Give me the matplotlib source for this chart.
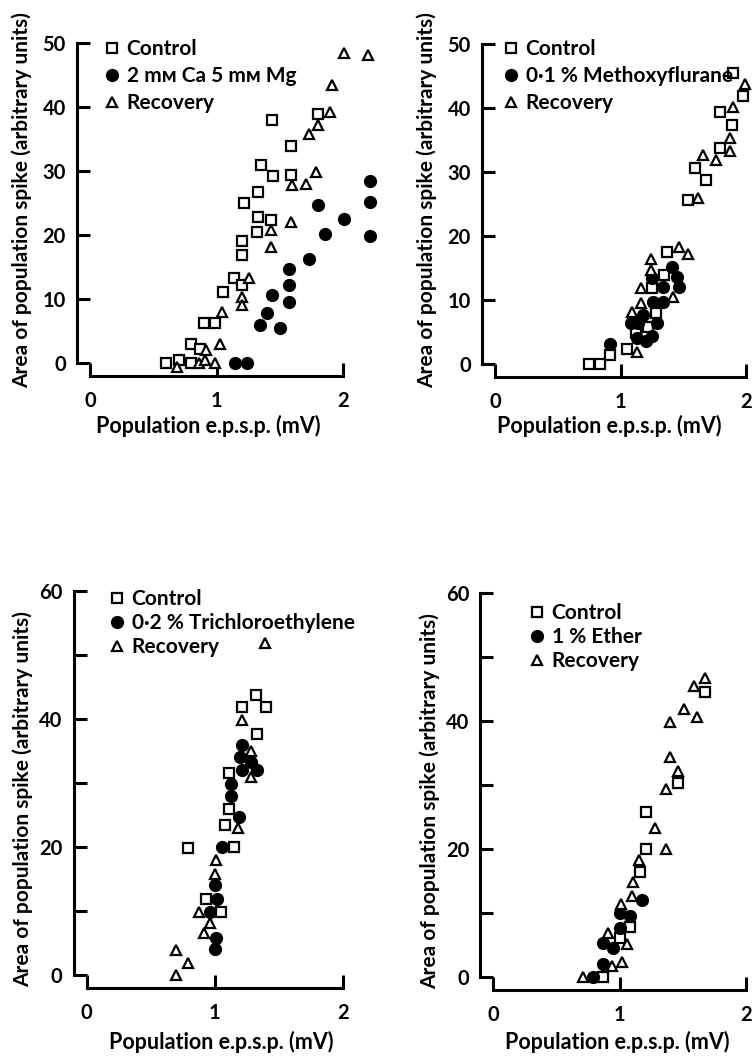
import matplotlib
matplotlib.use("Agg")
import matplotlib.pyplot as plt

plt.rcParams['font.family'] = ['Lato', 'DejaVu Sans']
plt.rcParams['font.weight'] = 'bold'

# panel A: 2 mM Ca 5 mM Mg
a_ctrl_x = [0.60, 0.70, 0.80, 0.80, 0.87, 0.90, 0.99, 1.05, 1.14, 1.20, 1.20, 1.20, 1.32, 1.33,
            1.43, 1.22, 1.33, 1.35, 1.45, 1.59, 1.44, 1.59, 1.80]
a_ctrl_y = [0.0, 0.4, 0.0, 3.0, 2.2, 6.2, 6.2, 11.1, 13.2, 12.1, 16.8, 19.0, 20.5, 22.7,
            22.3, 25.0, 26.7, 30.9, 29.1, 29.3, 38.0, 33.8, 38.8]
a_drug_x = [1.15, 1.24, 1.34, 1.50, 1.40, 1.44, 1.57, 1.57, 1.57, 1.73, 1.80, 1.86, 2.01,
            2.21, 2.21, 2.21]
a_drug_y = [0.0, 0.0, 5.9, 5.5, 7.7, 10.6, 9.5, 12.1, 14.6, 16.2, 24.6, 20.1, 22.4,
            28.4, 25.1, 19.8]
a_rec_x = [0.69, 0.86, 0.91, 0.99, 0.92, 1.03, 1.04, 1.20, 1.20, 1.26, 1.43, 1.43, 1.59, 1.60,
           1.71, 1.79, 1.73, 1.80, 1.90, 1.91, 2.01, 2.20]
a_rec_y = [-0.7, 0.0, 0.4, 0.0, 2.0, 3.0, 8.0, 10.3, 9.0, 13.2, 20.7, 18.1, 22.0, 27.8,
           28.0, 29.8, 35.7, 37.2, 39.2, 43.4, 48.4, 48.1]

# panel B: methoxyflurane
b_ctrl_x = [0.75, 0.84, 0.92, 1.05, 1.12, 1.22, 1.28, 1.25, 1.35, 1.37, 1.54, 1.59, 1.68,
            1.79, 1.79, 1.89, 1.90, 1.98]
b_ctrl_y = [0.0, 0.0, 1.4, 2.4, 4.8, 5.8, 7.9, 11.8, 13.9, 17.5, 25.7, 30.6, 28.8,
            33.7, 39.4, 37.3, 45.4, 41.8]
b_drug_x = [0.92, 1.08, 1.13, 1.14, 1.18, 1.20, 1.25, 1.26, 1.25, 1.29, 1.34, 1.34, 1.41,
            1.45, 1.47]
b_drug_y = [3.2, 6.4, 4.0, 6.4, 7.7, 3.6, 4.3, 9.7, 13.4, 6.4, 12.1, 9.7, 15.2, 13.6, 12.1]
b_rec_x = [1.13, 1.09, 1.16, 1.16, 1.24, 1.24, 1.42, 1.47, 1.54, 1.62, 1.66, 1.76, 1.87,
           1.87, 1.90, 1.99]
b_rec_y = [1.9, 8.2, 9.5, 11.8, 14.7, 16.4, 10.5, 18.3, 17.2, 25.9, 32.7, 31.9, 35.3,
           33.3, 40.1, 43.7]

# panel C: trichloroethylene
c_ctrl_x = [0.79, 0.93, 1.05, 1.15, 1.08, 1.11, 1.11, 1.33, 1.21, 1.32, 1.40]
c_ctrl_y = [19.8, 11.8, 9.8, 20.0, 23.4, 26.0, 31.6, 37.7, 41.9, 43.8, 41.8]
c_drug_x = [1.00, 1.01, 0.96, 1.02, 1.00, 1.06, 1.19, 1.125, 1.125, 1.21, 1.20, 1.28,
            1.21, 1.33]
c_drug_y = [4.0, 5.8, 9.9, 11.9, 14.1, 20.0, 24.7, 27.9, 29.8, 35.9, 34.1, 33.3, 32.1, 32.0]
c_rec_x = [0.70, 0.79, 0.70, 0.92, 0.96, 0.88, 1.00, 1.01, 1.18, 1.28, 1.28, 1.21, 1.39]
c_rec_y = [0.0, 1.9, 3.9, 6.6, 8.2, 9.9, 15.8, 18.0, 22.9, 31.0, 35.0, 39.8, 51.9]

# panel D: ether
d_ctrl_x = [0.87, 1.00, 1.08, 1.16, 1.21, 1.21, 1.46, 1.68]
d_ctrl_y = [0.0, 6.0, 7.7, 16.4, 19.9, 25.8, 30.3, 44.5]
d_drug_x = [0.79, 0.87, 0.87, 0.945, 1.00, 1.00, 1.08, 1.175]
d_drug_y = [0.0, 2.0, 5.2, 4.5, 7.55, 9.9, 9.5, 12.0]
d_rec_x = [0.71, 0.94, 1.02, 0.91, 1.06, 1.01, 1.10, 1.11, 1.156, 1.28, 1.365, 1.365,
           1.465, 1.40, 1.40, 1.51, 1.61, 1.59, 1.68]
d_rec_y = [0.0, 1.7, 2.3, 6.9, 5.1, 11.4, 12.6, 14.75, 18.3, 23.3, 19.9, 29.3, 32.2,
           34.4, 39.8, 41.9, 40.6, 45.4, 46.7]

x_ticks = [0, 1, 2]
top_y_ticks = [0, 10, 20, 30, 40, 50]
top_y_labels = ['0', '10', '20', '30', '40', '50']
bot_y_ticks = [0, 10, 20, 30, 40, 50, 60]
bot_y_labels = ['0', '', '20', '', '40', '', '60']

panels = [
    # pos: x0 px, px per mV, y0 px, px per unit, xmax, ymax
    dict(pos=(90, 126.5, 362.7, 6.4, 2.3, 50), drug='2 mᴍ Ca 5 mᴍ Mg',
         data=(a_ctrl_x, a_ctrl_y, a_drug_x, a_drug_y, a_rec_x, a_rec_y),
         yt=(top_y_ticks, top_y_labels),
         leg=(0.051, 1.012, 0.35), ylab=(-0.199, 0.508), xlab=(0.405, -0.163)),
    dict(pos=(495, 125.5, 364, 6.4, 2.05, 50), drug='0·1 % Methoxyflurane',
         data=(b_ctrl_x, b_ctrl_y, b_drug_x, b_drug_y, b_rec_x, b_rec_y),
         yt=(top_y_ticks, top_y_labels),
         leg=(0.034, 1.016, 0.35), ylab=(-0.225, 0.5125), xlab=(0.443, -0.159)),
    dict(pos=(86.7, 128, 975, 6.4, 2.1, 60), drug='0·2 % Trichloroethylene',
         data=(c_ctrl_x, c_ctrl_y, c_drug_x, c_drug_y, c_rec_x, c_rec_y),
         yt=(bot_y_ticks, bot_y_labels),
         leg=(0.086, 1.005, 0.2), ylab=(-0.2, 0.458), xlab=(0.5, -0.146)),
    dict(pos=(493.3, 126.3, 976.7, 6.4, 2.05, 60), drug='1 % Ether',
         data=(d_ctrl_x, d_ctrl_y, d_drug_x, d_drug_y, d_rec_x, d_rec_y),
         yt=(bot_y_ticks, bot_y_labels),
         leg=(0.141, 0.973, 0.2), ylab=(-0.206, 0.458), xlab=(0.478, -0.141)),
]

W, H = 756, 1056
fig = plt.figure(figsize=(W / 100, H / 100), dpi=100)

for p in panels:
    x0, xpu, y0, ypu, xmax, ymax = p['pos']
    ax = fig.add_axes([x0 / W, (H - y0) / H, xmax * xpu / W, ymax * ypu / H])
    ax.set_facecolor('none')
    ax.set_xlim(0, xmax)
    ax.set_ylim(0, ymax)
    yticks, ylabels = p['yt']

    cx, cy, dx, dy, rx, ry = p['data']
    h1, = ax.plot(cx, cy, 's', ms=7.3, mfc='white', mec='black', mew=1.6, clip_on=False,
                  linestyle='none')
    h2, = ax.plot(dx, dy, 'o', ms=8.5, mfc='black', mec='black', clip_on=False,
                  linestyle='none')
    h3, = ax.plot(rx, ry, '^', ms=7.6, mfc='white', mec='black', mew=1.6, clip_on=False,
                  linestyle='none')

    # offset frame: spines 13 px outside the origin, ticks pointing inward
    for s in ['top', 'right']:
        ax.spines[s].set_visible(False)
    for s in ['left', 'bottom']:
        ax.spines[s].set_position(('outward', 9.4))
        ax.spines[s].set_linewidth(2.2)
        ax.spines[s].set_capstyle('projecting')
    ax.spines['left'].set_bounds(0, ymax)
    ax.spines['bottom'].set_bounds(0, 2)

    ax.set_xticks(x_ticks)
    ax.set_yticks(yticks, ylabels)
    ax.tick_params(direction='in', length=9.4, width=2.2, labelsize=14.5)
    ax.tick_params(axis='x', pad=11)
    ax.tick_params(axis='y', pad=8)

    ax.set_xlabel('Population e.p.s.p. (mV)', fontsize=15.5, fontweight='bold')
    ax.set_ylabel('Area of population spike (arbitrary units)', fontsize=15,
                  fontweight='bold')
    ax.xaxis.set_label_coords(*p['xlab'])
    ax.yaxis.set_label_coords(*p['ylab'])

    lx, ly, sp = p['leg']
    ax.legend([h1, h2, h3], ['Control', p['drug'], 'Recovery'], loc='upper left',
              bbox_to_anchor=(lx, ly), frameon=False, borderpad=0, borderaxespad=0,
              handlelength=0.7, handletextpad=0.35, labelspacing=sp, numpoints=1,
              prop={'size': 15, 'weight': 'bold'})

fig.canvas.draw()
fig.savefig('out.png', dpi=100)
